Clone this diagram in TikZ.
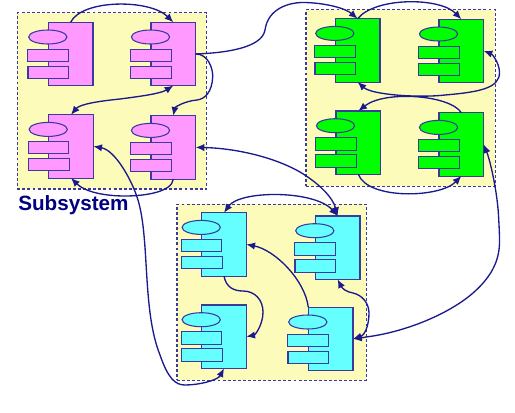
\documentclass[tikz,border=0pt]{standalone}
\usepackage{fontspec}
\setmainfont{Liberation Sans}
\usetikzlibrary{shapes.geometric,arrows.meta}
\definecolor{panelc}{HTML}{FDFBB9}
\definecolor{pinkc}{HTML}{FF99FF}
\definecolor{greenc}{HTML}{00FF00}
\definecolor{cyanc}{HTML}{66FFFF}
\definecolor{inkc}{HTML}{1A1A8E}
\definecolor{partc}{HTML}{3A3A9E}
\definecolor{labelc}{HTML}{000080}
\tikzset{
  panel/.style={draw=partc,fill=panelc,dash pattern=on 2.2pt off 1.6pt,line width=1pt,anchor=north west,inner sep=0pt,outer sep=0pt},
  body/.style={draw=partc,line width=.8pt,anchor=north west,inner sep=0pt,outer sep=0pt,minimum width=33.5pt,minimum height=47.5pt},
  oval/.style={draw=partc,line width=.8pt,ellipse,inner sep=0pt,outer sep=0pt,minimum width=28.7pt,minimum height=10.5pt},
  slot/.style={draw=partc,line width=.8pt,rectangle,inner sep=0pt,outer sep=0pt,minimum width=30.5pt,minimum height=9.2pt},
  link/.style={draw=inkc,line width=1pt,-{Latex[length=6.5pt,width=5.5pt]}},
  linkboth/.style={draw=inkc,line width=1pt,{Latex[length=6.5pt,width=5.5pt]}-{Latex[length=6.5pt,width=5.5pt]}},
}
\newcommand{\compo}[4]{%
  \begin{scope}[shift={(#2,#3)}]
    \node[body,fill=#4] (#1) at (0,0) {};
    \node[oval,fill=#4] (#1o) at (-.5,14.7) {};
    \node[slot,fill=#4] (#1a) at (-.3,32.9) {};
    \node[slot,fill=#4] (#1b) at (0,49.9) {};
  \end{scope}}
\begin{document}
\begin{tikzpicture}[x=.75pt,y=-.75pt]
\useasboundingbox (0,0) rectangle (515,412);
\node[panel,minimum width=141.8pt,minimum height=132.2pt] (pinkpanel) at (17.3,12.7) {};
\node[panel,minimum width=142pt,minimum height=132.5pt] (greenpanel) at (306,9.7) {};
\node[panel,minimum width=142pt,minimum height=132pt] (cyanpanel) at (177,204.3) {};
\compo{P1}{48.3}{22.3}{pinkc}
\compo{P2}{151}{22.3}{pinkc}
\compo{P3}{48.7}{114.7}{pinkc}
\compo{P4}{151}{115.7}{pinkc}
\compo{G1}{335.3}{18.7}{greenc}
\compo{G2}{439}{19.3}{greenc}
\compo{G3}{336}{111}{greenc}
\compo{G4}{439}{112.7}{greenc}
\compo{C1}{201.7}{212.7}{cyanc}
\compo{C2}{315.3}{216}{cyanc}
\compo{C3}{201.7}{305}{cyanc}
\compo{C4}{308.3}{307.3}{cyanc}
\node[anchor=base west,inner sep=0pt,text=labelc,font=\fontsize{15.5}{18}\selectfont\bfseries] (sublabel) at (18,210) {Subsystem};
% pink
\draw[link] (P1.north) .. controls (82,-1) and (150,-1) .. (P2.north);
\draw[link] (P2.east) .. controls (225,53) and (262,48) .. (265,30) .. controls (268,8) and (290,2) .. (305,2.5) .. controls (325,3) and (345,8) .. (G1.north);
\draw[link] (P2.east) .. controls (208,54) and (213,68) .. (212.7,77) .. controls (212,92) and (205,99) .. (197,100) .. controls (185,101) and (175,107) .. (P4.north);
\draw[linkboth] (P2.south) .. controls (160,94) and (135,97) .. (120,99) .. controls (100,101) and (80,104) .. (P3.north);
\draw[link] (P4.south) .. controls (172,192) and (145,196) .. (125,196) .. controls (105,196) and (85,192) .. (P3.south);
\draw[linkboth] (P4.east) .. controls (230,148) and (270,155) .. (300,172) .. controls (320,184) and (333,198) .. (C2.north);
\draw[linkboth] (P3.east) .. controls (115,150) and (132,180) .. (138,200) .. controls (150,240) and (142,310) .. (160,355) .. controls (168,378) and (175,385) .. (185,385) .. controls (200,385) and (218,380) .. (C3.south);
% green
\draw[link] (G1.north) .. controls (375,-3) and (440,-3) .. (G2.north);
\draw[linkboth] (G1.south) .. controls (372,95) and (420,98) .. (445,95) .. controls (480,92) and (500,88) .. (499.5,72) .. controls (499,62) and (492,54) .. (G2.east);
\draw[link] (G4.north) .. controls (450,95) and (385,90) .. (G3.north);
\draw[link] (G3.south) .. controls (368,200) and (440,198) .. (G4.south);
\draw[linkboth] (G4.east) .. controls (490,160) and (497,190) .. (498.5,215) .. controls (499,225) and (499.5,232) .. (499.5,240) .. controls (500,262) and (490,278) .. (473,293) .. controls (450,313) and (410,330) .. (373,336) .. controls (366,337) and (360,338) .. (C4.east);
% cyan
\draw[linkboth] (C1.north) .. controls (240,190) and (315,190) .. (C2.north);
\draw[link] (C4.north west) .. controls (305,280) and (275,250) .. (C1.east);
\draw[link] (C1.south) .. controls (226,288) and (235,291) .. (243,291) .. controls (255,291) and (263,300) .. (263,312) .. controls (263,325) and (255,335) .. (C3.east);
\draw[linkboth] (C2.south) .. controls (342,288) and (346,292) .. (353,293) .. controls (362,295) and (369,303) .. (369,313) .. controls (369,325) and (365,335) .. (C4.east);
\end{tikzpicture}
\end{document}
